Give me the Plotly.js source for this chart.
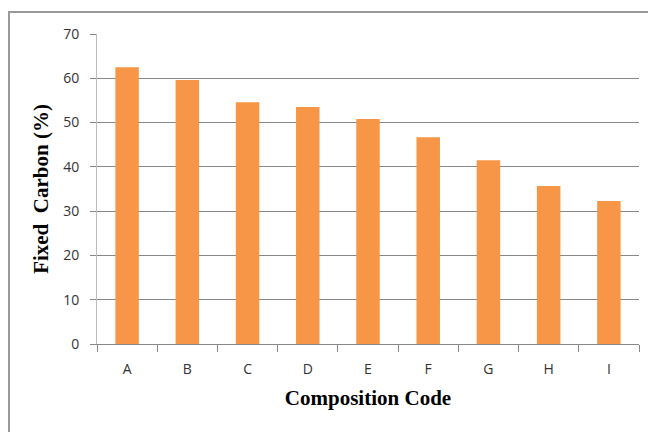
<!DOCTYPE html>
<html>
<head>
<meta charset="utf-8">
<script src="https://cdn.plot.ly/plotly-3.0.1.min.js"></script>
<style>html,body{margin:0;padding:0;background:#fff;}#chart{width:648px;height:432px;}</style>
</head>
<body>
<div id="chart"></div>
<script>
const categories = ["A","B","C","D","E","F","G","H","I"];
const fixedCarbon = [62.5, 59.6, 54.6, 53.5, 50.8, 46.7, 41.5, 35.7, 32.3];
const yTicks = [0,10,20,30,40,50,60,70];

const trace = {
  type: 'bar',
  x: categories,
  y: fixedCarbon,
  marker: {color: '#F79646', line: {width: 0}},
  hoverinfo: 'none'
};

const layout = {
  width: 648, height: 432,
  margin: {l: 97, r: 9, t: 34, b: 88},
  paper_bgcolor: '#ffffff',
  plot_bgcolor: '#ffffff',
  showlegend: false,
  bargap: 0.61,
  font: {family: 'Liberation Sans, Arial, sans-serif', color: '#333'},
  xaxis: {
    type: 'category',
    tickson: 'boundaries',
    ticks: 'outside', ticklen: 7, tickcolor: '#888', tickwidth: 1,
    showline: true, linecolor: '#888', linewidth: 1,
    showgrid: false,
    ticklabelstandoff: 12,
    tickfont: {family: 'Open Sans, sans-serif', size: 14, color: '#333'},
    title: {text: 'Composition Code', font: {family: 'Liberation Serif, Times New Roman, serif', size: 21, color: '#000', weight: 'bold'}, standoff: 13}
  },
  yaxis: {
    range: [0, 70],
    tickvals: yTicks,
    ticks: 'outside', ticklen: 6, tickcolor: '#888', tickwidth: 1,
    showline: true, linecolor: '#bbb', linewidth: 1,
    showgrid: true, gridcolor: '#888', gridwidth: 1,
    zeroline: false,
    ticklabelstandoff: 8,
    tickfont: {family: 'Open Sans, sans-serif', size: 14, color: '#333'},
    title: {text: 'Fixed  Carbon (%)', font: {family: 'Liberation Serif, Times New Roman, serif', size: 21, color: '#000', weight: 'bold'}, standoff: 8}
  },
  shapes: [{
    type: 'rect', xref: 'paper', yref: 'paper',
    x0: (9-97)/542, x1: (660-97)/542,
    y0: (88-445)/310, y1: (432-12-88)/310,
    line: {color: '#999', width: 2}, fillcolor: 'rgba(0,0,0,0)', layer: 'below'
  }]
};

Plotly.newPlot('chart', [trace], layout, {displayModeBar: false, staticPlot: true});
</script>
</body>
</html>
